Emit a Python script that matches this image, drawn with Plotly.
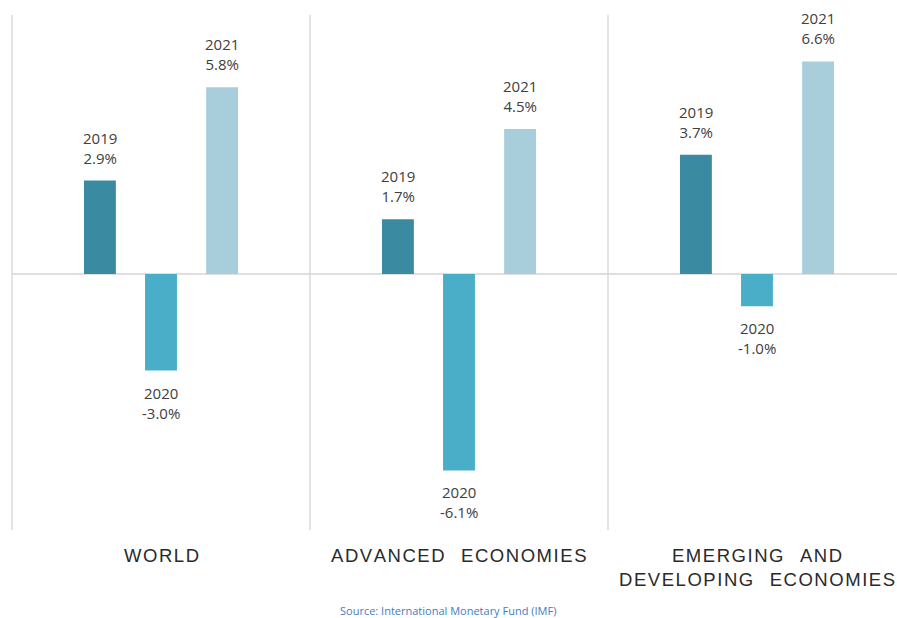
import plotly.graph_objects as go

# Real GDP growth by region (IMF World Economic Outlook)
regions = ["WORLD", "ADVANCED ECONOMIES", "EMERGING AND<br>DEVELOPING ECONOMIES"]
years = ["2019", "2020", "2021"]
growth_2019 = [2.9, 1.7, 3.7]
growth_2020 = [-3.0, -6.1, -1.0]
growth_2021 = [5.8, 4.5, 6.6]
source_note = "Source: International Monetary Fund (IMF)"

series = [growth_2019, growth_2020, growth_2021]
colors = ["#3a8aa1", "#4baec8", "#a8cedc"]

BAR_W = 0.107     # bar width in category units
SPACING = 0.205   # distance between bar centres within a group
LABEL_FONT = dict(family="Open Sans, sans-serif", size=15, color="#404040")

LETTER_GAP = "\u200a"                          # hair space between letters
WORD_GAP = "\u200a\u00a0\u2006\u00a0\u200a"    # wider gap between words


def spaced(text):
    """Widen the tracking of a caption with narrow spaces between letters."""
    out = []
    for line in text.split("<br>"):
        words = [LETTER_GAP.join(list(w)) for w in line.split(" ")]
        out.append(WORD_GAP.join(words))
    return "<br>".join(out)


fig = go.Figure()
x_idx = list(range(len(regions)))

for j, (year, vals, col) in enumerate(zip(years, series, colors)):
    fig.add_trace(go.Bar(
        x=x_idx, y=vals, name=year,
        width=BAR_W, offset=(j - 1) * SPACING - BAR_W / 2,
        marker=dict(color=col, line=dict(width=0)),
        hoverinfo="skip",
    ))
    for i, v in enumerate(vals):
        fig.add_annotation(
            x=i + (j - 1) * SPACING, y=v, xref="x", yref="y",
            text=f"{year}<br>{v:.1f}%", showarrow=False,
            font=LABEL_FONT,
            yanchor="bottom" if v >= 0 else "top",
            yshift=11 if v >= 0 else -10,
        )

# group captions under the plot
for i, name in enumerate(regions):
    fig.add_annotation(
        x=i, y=-0.026, xref="x", yref="paper",
        text=spaced(name), showarrow=False,
        font=dict(family="Liberation Sans, Arial, sans-serif", size=18.5, color="#2a2a2a"),
        yanchor="top", align="center",
    )

fig.add_annotation(
    x=0.4994, y=-0.157, xref="paper", yref="paper",
    text=source_note, showarrow=False,
    font=dict(family="Open Sans, sans-serif", size=11, color="#3f7dc4"),
    yanchor="middle",
)

# vertical dividers between groups
for k in range(len(regions)):
    fig.add_shape(
        type="line", xref="x", yref="paper",
        x0=k - 0.5, x1=k - 0.5, y0=0, y1=1,
        line=dict(color="#dadada", width=1.5), layer="below",
    )
# zero baseline
fig.add_shape(
    type="line", xref="x", yref="y",
    x0=-0.5, x1=2.47, y0=0, y1=0,
    line=dict(color="#d4d4d4", width=1.5), layer="below",
)

fig.update_layout(
    width=897, height=618,
    margin=dict(l=0, r=0, t=15, b=88),
    paper_bgcolor="white", plot_bgcolor="white",
    barmode="overlay", showlegend=False,
    xaxis=dict(range=[-0.5403, 2.4698], visible=False, fixedrange=True),
    yaxis=dict(range=[-7.95, 8.04], visible=False, fixedrange=True),
)

fig.write_html("out.html")
